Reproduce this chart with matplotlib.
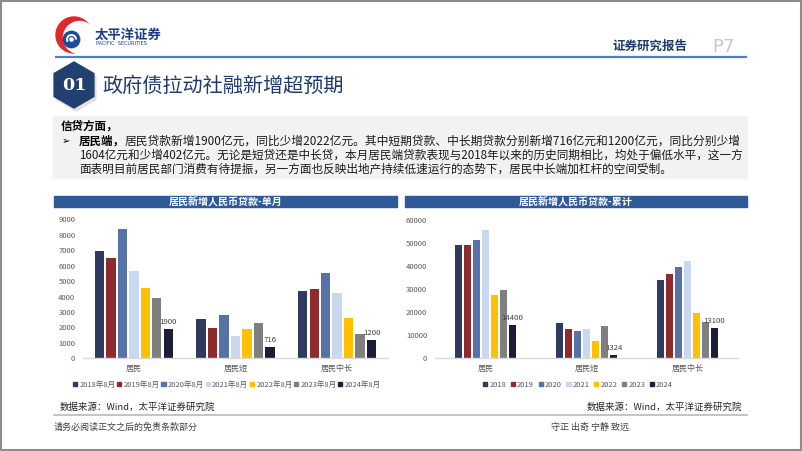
import matplotlib
matplotlib.use("Agg")
import matplotlib.pyplot as plt
from matplotlib.patches import Rectangle, RegularPolygon, Circle, Arc, Patch
import numpy as np

plt.rcParams['font.family'] = ['Noto Sans CJK SC', 'DejaVu Sans']

# ---------------- data ----------------
categories = ['居民', '居民短', '居民中长']
monthly_series = ['2018年8月', '2019年8月', '2020年8月', '2021年8月', '2022年8月', '2023年8月', '2024年8月']
cum_series = ['2018', '2019', '2020', '2021', '2022', '2023', '2024']
# values per category, ordered by year 2018..2024 (亿元)
monthly_jumin = [6950, 6480, 8380, 5680, 4535, 3890, 1900]
monthly_short = [2550, 1944, 2808, 1447, 1900, 2268, 716]
monthly_long = [4363, 4492, 5529, 4233, 2613, 1555, 1200]
cum_jumin = [49060, 48900, 51370, 55400, 27400, 29580, 14400]
cum_short = [15150, 12550, 11690, 12840, 7650, 14000, 1324]
cum_long = [33770, 36360, 39390, 42280, 19620, 15580, 13100]
monthly_ticks = [0, 1000, 2000, 3000, 4000, 5000, 6000, 7000, 8000, 9000]
cum_ticks = [0, 10000, 20000, 30000, 40000, 50000, 60000]

colors = ['#2E3A5E', '#8E2B2F', '#5672A6', '#C9D8EE', '#FFC000', '#7F7F7F', '#1B1F36']

W, H = 802, 451
fig = plt.figure(figsize=(W / 100, H / 100), dpi=100)
fig.patch.set_facecolor('white')

# overlay in pixel coordinates for slide decoration
ov = fig.add_axes([0, 0, 1, 1], zorder=0)
ov.set_xlim(0, W)
ov.set_ylim(H, 0)
ov.axis('off')

navy = '#1F3A6E'
# frame
ov.add_patch(Rectangle((1, 1), W - 2, H - 2, fill=False, ec='#8C8C8C', lw=1.5))

# logo
ov.add_patch(Circle((74, 35), 18, color='#E3262C', zorder=2))
ov.add_patch(Circle((79.5, 37.5), 16, color='white', zorder=3))
ov.add_patch(Circle((71.5, 39.5), 8.2, color='#1F4C9A', zorder=4))
ov.add_patch(Arc((71.5, 39.5), 9, 9, theta1=150, theta2=360, color='white', lw=1.4, zorder=5))
ov.add_patch(Circle((71.5, 39.5), 1.6, color='white', zorder=5))
ov.text(95, 34.5, '太平洋证券', fontsize=9.6, fontweight='bold', color='#1F3C88', va='center', ha='left')
ov.text(95.5, 43.5, 'PACIFIC  SECURITIES', fontsize=3.6, color='#1F3C88', va='center', ha='left',
        family='DejaVu Sans')

# header line and right header text
ov.plot([55, 747], [56.5, 56.5], color='#4F7EC1', lw=1.6, solid_capstyle='butt')
ov.text(612, 46.5, '证券研究报告', fontsize=9, fontweight='bold', color=navy, va='center', ha='left')
ov.text(712, 46.5, 'P7', fontsize=13, color='#C8C8C8', va='center', ha='left', family='DejaVu Sans')

# hexagon section number
ov.add_patch(RegularPolygon((76, 88), 6, radius=23, orientation=0, color='#D5D5D5', alpha=0.6, zorder=2))
ov.add_patch(RegularPolygon((74, 85), 6, radius=23, orientation=0, color='#22406F', zorder=3))
ov.text(74, 86, '01', fontsize=12.5, fontweight='bold', color='white', ha='center', va='center',
        family='DejaVu Serif', zorder=4)
ov.text(102, 86.5, '政府债拉动社融新增超预期', fontsize=14.5, color=navy, ha='left', va='center')

# grey text box
ov.add_patch(Rectangle((53, 116), 694, 62, color='#F2F2F2', zorder=1))
fs = 8.3
ov.text(61, 126, '信贷方面，', fontsize=fs, fontweight='bold', color='black', va='center', ha='left', zorder=3)
ov.text(62, 141, '➢', fontsize=fs - 1, color='black', va='center', ha='left', family='DejaVu Sans', zorder=3)
tb = ov.text(79, 141, '居民端，', fontsize=fs, fontweight='bold', color='black', va='center', ha='left', zorder=3)
lines = [
    '居民贷款新增1900亿元，同比少增2022亿元。其中短期贷款、中长期贷款分别新增716亿元和1200亿元，同比分别少增',
    '1604亿元和少增402亿元。无论是短贷还是中长贷，本月居民端贷款表现与2018年以来的历史同期相比，均处于偏低水平，这一方',
    '面表明目前居民部门消费有待提振，另一方面也反映出地产持续低速运行的态势下，居民中长端加杠杆的空间受制。',
]
renderer = fig.canvas.get_renderer()
inv = ov.transData.inverted()
bb = tb.get_window_extent(renderer)
x_end_bold = inv.transform((bb.x1, bb.y0))[0]
t1 = ov.text(x_end_bold, 141, lines[0], fontsize=fs, color='#1A1A1A', va='center', ha='left', zorder=3)
t2 = ov.text(79, 155, lines[1], fontsize=fs, color='#1A1A1A', va='center', ha='left', zorder=3)
t3 = ov.text(79, 169, lines[2], fontsize=fs, color='#1A1A1A', va='center', ha='left', zorder=3)
# justify first two lines to right edge
for t, x0 in [(t1, x_end_bold), (t2, 79)]:
    b = t.get_window_extent(renderer)
    wpx = inv.transform((b.x1, b.y0))[0] - x0
    t.set_fontsize(fs * (741 - x0) / wpx)
t3.set_fontsize(t2.get_fontsize())

# chart title bars
for (x0, x1, title) in [(54, 397, '居民新增人民币贷款-单月'), (405, 747, '居民新增人民币贷款-累计')]:
    ov.add_patch(Rectangle((x0, 196), x1 - x0, 11, color='#2E5A97', zorder=1))
    ov.text((x0 + x1) / 2, 201.5, title, fontsize=7.2, fontweight='bold', color='white',
            ha='center', va='center', zorder=2)

# sources and footer
ov.text(60, 407.5, '数据来源：Wind，太平洋证券研究院', fontsize=6.8, color='#262626', ha='left', va='center')
ov.text(742, 407.5, '数据来源：Wind，太平洋证券研究院', fontsize=6.8, color='#262626', ha='right', va='center')
ov.plot([54, 747], [415, 415], color='#BFBFBF', lw=1.3)
ov.text(54, 427, '请务必阅读正文之后的免责条款部分', fontsize=6.5, color='#404040', ha='left', va='center')
ov.text(551, 427, '守正 出奇 宁静 致远', fontsize=6.5, color='#404040', ha='left', va='center')


def make_chart(rect_px, values_by_cat, ymax, ticks, series, slot, barw, colspace):
    x0, ytop, x1, ybot = rect_px
    ax = fig.add_axes([x0 / W, 1 - ybot / H, (x1 - x0) / W, (ybot - ytop) / H], zorder=2)
    ax.set_facecolor('none')
    data = np.array(values_by_cat).T  # series x categories
    xs = np.arange(len(categories))
    n = len(series)
    for i in range(n):
        off = (i - (n - 1) / 2) * slot
        bars = ax.bar(xs + off, data[i], width=barw, color=colors[i], label=series[i], zorder=2)
        if i == n - 1:
            for rect, v in zip(bars, data[i]):
                ax.annotate(f'{v:.0f}', (rect.get_x() + rect.get_width() / 2, rect.get_height()),
                            xytext=(0, 2), textcoords='offset points', ha='center', va='bottom',
                            fontsize=5.6, color='#404040', zorder=3)
    ax.set_xlim(-0.5, len(categories) - 0.5)
    ax.set_ylim(0, ymax)
    ax.set_yticks(ticks)
    ax.set_yticklabels([str(t) for t in ticks])
    ax.set_xticks(xs)
    ax.set_xticklabels(categories)
    for s in ['top', 'right', 'left']:
        ax.spines[s].set_visible(False)
    ax.spines['bottom'].set_color('#D9D9D9')
    ax.spines['bottom'].set_linewidth(1.0)
    ax.tick_params(axis='y', length=0, pad=5.5, labelsize=5.5, labelcolor='#595959')
    ax.tick_params(axis='x', length=0, pad=4.0, labelsize=5.8, labelcolor='#595959')
    handles = [Patch(color=colors[i], label=series[i]) for i in range(n)]
    cx = 0.472
    ax.legend(handles=handles, loc='center', bbox_to_anchor=(cx, -0.19), ncol=n, frameon=False,
              fontsize=5.4, handlelength=0.55, handleheight=0.55, handletextpad=0.3,
              columnspacing=colspace, borderpad=0, labelcolor='#595959')
    return ax


make_chart((83, 219.3, 388, 358.3), [monthly_jumin, monthly_short, monthly_long], 9000,
           monthly_ticks, monthly_series, 0.113, 0.092, 0.22)
make_chart((435, 219.7, 738, 358.3), [cum_jumin, cum_short, cum_long], 60000,
           cum_ticks, cum_series, 0.089, 0.073, 0.6)

fig.savefig('out.png', dpi=100)
